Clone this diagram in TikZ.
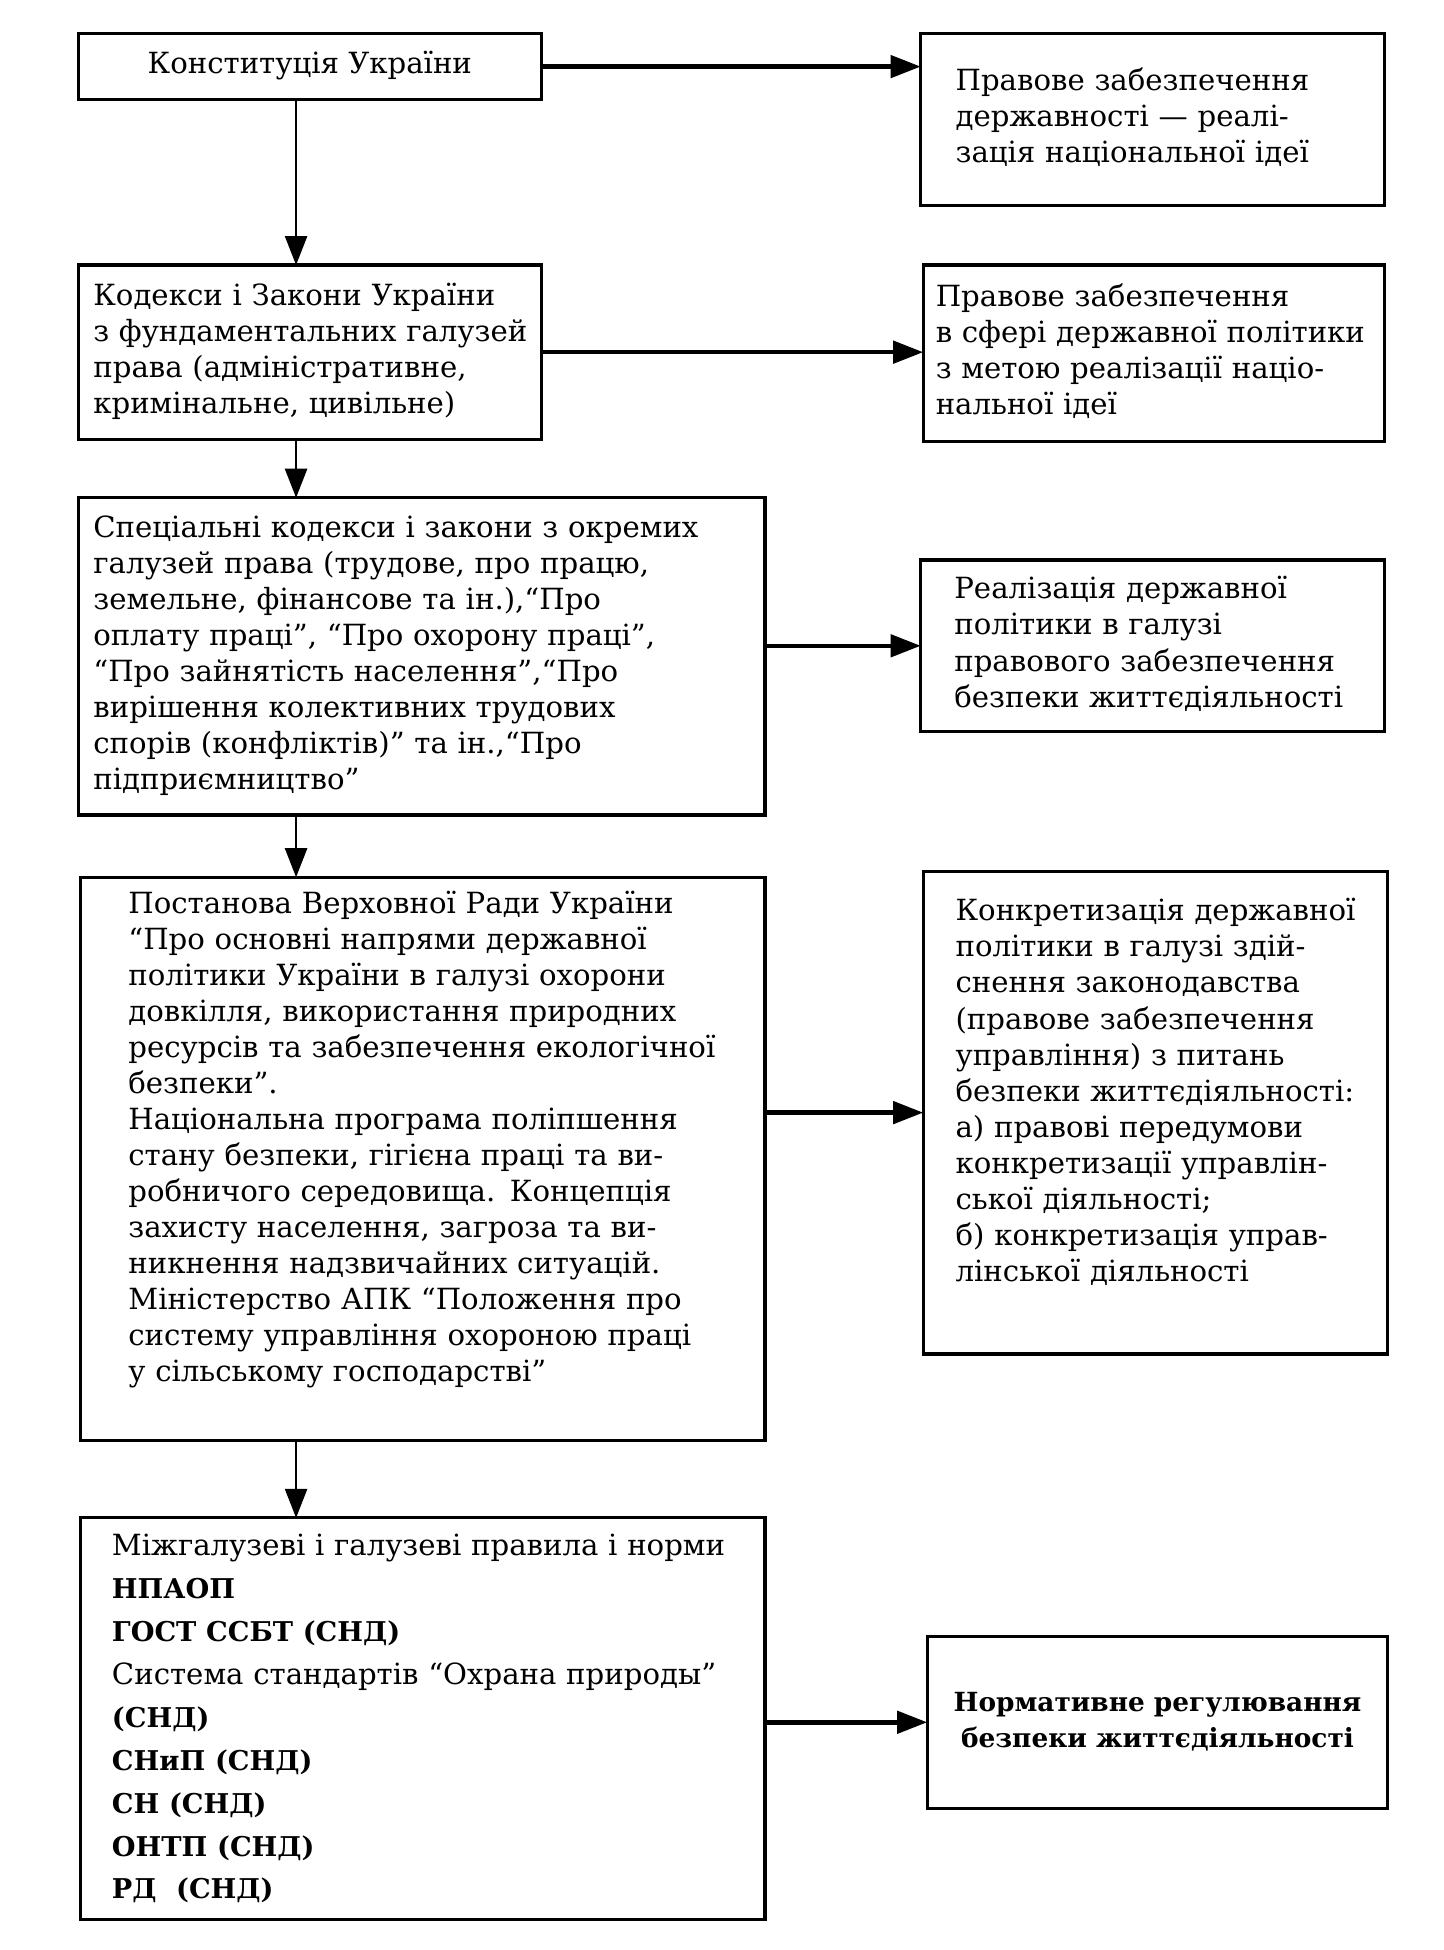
\documentclass[tikz,border=0pt]{standalone}
\usepackage{fontspec}
\setmainfont{DejaVu Serif}
\usepackage{tikz}
\usetikzlibrary{arrows.meta, calc}
\tikzstyle{lawbox} = [draw=black, line width=1.8pt, outer sep=0, inner ysep=0,
    anchor=north west, align=left, font=\fontsize{16.6pt}{20.5pt}\selectfont]
\tikzstyle{harrow} = [line width=2.6pt, -{Triangle[length=0.6cm, width=0.44cm]}]
\tikzstyle{varrow} = [line width=1.4pt, -{Triangle[length=0.58cm, width=0.44cm]}]
\newcommand{\normcode}[1]{{\fontsize{15.5pt}{24.4pt}\selectfont\bfseries #1}}

\begin{document}
\begin{tikzpicture}
\useasboundingbox (0,0) rectangle (28.86,-38.99);
\coordinate (spine) at (5.92,0);

%%% LEFT COLUMN
% Constitution on top
\node[lawbox, align=center, inner xsep=0, minimum width=9.255cm, minimum height=1.319cm] (konst) at (1.567,-0.672)
  {\begin{tabular}{c} Конституція України \end{tabular}};

% Codes and laws
\node[lawbox, inner xsep=0.3cm, text width=8.655cm, minimum height=3.483cm] (kodeksy) at (1.567,-5.30)
  {\begin{tabular}{@{}l@{}} Кодекси і Закони України \\ з фундаментальних галузей \\ права (адміністративне, \\ кримінальне, цивільне) \end{tabular}};

% Special codes
\node[lawbox, inner xsep=0.3cm, text width=13.13cm, minimum height=6.344cm] (specialni) at (1.567,-9.952)
  {\begin{tabular}{@{}l@{}} Спеціальні кодекси і закони з окремих \\ галузей права (трудове, про працю, \\
  земельне, фінансове та ін.),“Про \\ оплату праці”, “Про охорону праці”, \\
  “Про зайнятість населення”,“Про \\ вирішення колективних трудових \\
  спорів (конфліктів)” та ін.,“Про \\ підприємництво” \end{tabular}};

% Resolutions and programs
\node[lawbox, inner xsep=0.95cm, text width=11.78cm, minimum height=11.27cm] (postanova) at (1.617,-17.54)
  {\begin{tabular}{@{}l@{}} Постанова Верховної Ради України \\ “Про основні напрями державної \\
  політики України в галузі охорони \\ довкілля, використання природних \\
  ресурсів та забезпечення екологічної \\ безпеки”. \\
  Національна програма поліпшення \\ стану безпеки, гігієна праці та ви- \\
  робничого середовища. Концепція \\ захисту населення, загроза та ви- \\
  никнення надзвичайних ситуацій. \\ Міністерство АПК “Положення про \\
  систему управління охороною праці \\ у сільському господарстві” \\[0.75cm] \end{tabular}};

% Norms and rules
\node[lawbox, inner xsep=0.622cm, text width=12.436cm, minimum height=8.036cm,
      font=\fontsize{16.6pt}{24.4pt}\selectfont] (normy) at (1.617,-30.35)
  {\begin{tabular}{@{}l@{}} Міжгалузеві і галузеві правила і норми \\ \normcode{НПАОП} \\
  \normcode{ГОСТ ССБТ (СНД)} \\ Система стандартів “Охрана природы” \\ \normcode{(СНД)} \\
  \normcode{СНиП (СНД)} \\ \normcode{СН (СНД)} \\ \normcode{ОНТП (СНД)} \\ \normcode{РД\ \ (СНД)} \end{tabular}};

%%% RIGHT COLUMN
\node[lawbox, inner xsep=0.697cm, text width=7.886cm, minimum height=3.433cm] (derzh) at (18.41,-0.672)
  {\begin{tabular}{@{}l@{}} Правове забезпечення \\ державності — реалі- \\ зація національної ідеї \end{tabular}};

\node[lawbox, inner xsep=0.25cm, text width=8.73cm, minimum height=3.533cm] (polityka) at (18.46,-5.30)
  {\begin{tabular}{@{}l@{}} Правове забезпечення \\ в сфері державної політики \\ з метою реалізації націо- \\ нальної ідеї \end{tabular}};

\node[lawbox, inner xsep=0.672cm, text width=7.936cm, minimum height=3.433cm] (realiz) at (18.41,-11.196)
  {\begin{tabular}{@{}l@{}} Реалізація державної \\ політики в галузі \\ правового забезпечення \\ безпеки життєдіяльності \end{tabular}};

\node[lawbox, inner xsep=0.647cm, text width=7.986cm, minimum height=9.653cm] (konkret) at (18.46,-17.42)
  {\begin{tabular}{@{}l@{}} Конкретизація державної \\ політики в галузі здій- \\ снення законодавства \\
  (правове забезпечення \\ управління) з питань \\ безпеки життєдіяльності: \\
  а) правові передумови \\ конкретизації управлін- \\ ської діяльності; \\
  б) конкретизація управ- \\ лінської діяльності \\[0.75cm] \end{tabular}};

\node[lawbox, align=center, inner xsep=0, minimum width=9.206cm, minimum height=3.433cm,
      font=\fontsize{15pt}{20.5pt}\selectfont\bfseries] (regul) at (18.54,-32.72)
  {\begin{tabular}{c} Нормативне регулювання \\ безпеки життєдіяльності \end{tabular}};

%%% ARROWS
% to the right
\draw[harrow] (konst.east) -- (konst.east -| derzh.west);
\draw[harrow] (kodeksy.east) -- (kodeksy.east -| polityka.west);
\draw[harrow] (specialni.east |- realiz.west) -- (realiz.west);
\draw[harrow] (postanova.east |- konkret.west) -- (konkret.west);
\draw[harrow] (normy.east |- regul.west) -- (regul.west);

% down the left column
\draw[varrow] (konst.south -| spine) -- (kodeksy.north -| spine);
\draw[varrow] (kodeksy.south -| spine) -- (specialni.north -| spine);
\draw[varrow] (specialni.south -| spine) -- (postanova.north -| spine);
\draw[varrow] (postanova.south -| spine) -- (normy.north -| spine);

\end{tikzpicture}
\end{document}
